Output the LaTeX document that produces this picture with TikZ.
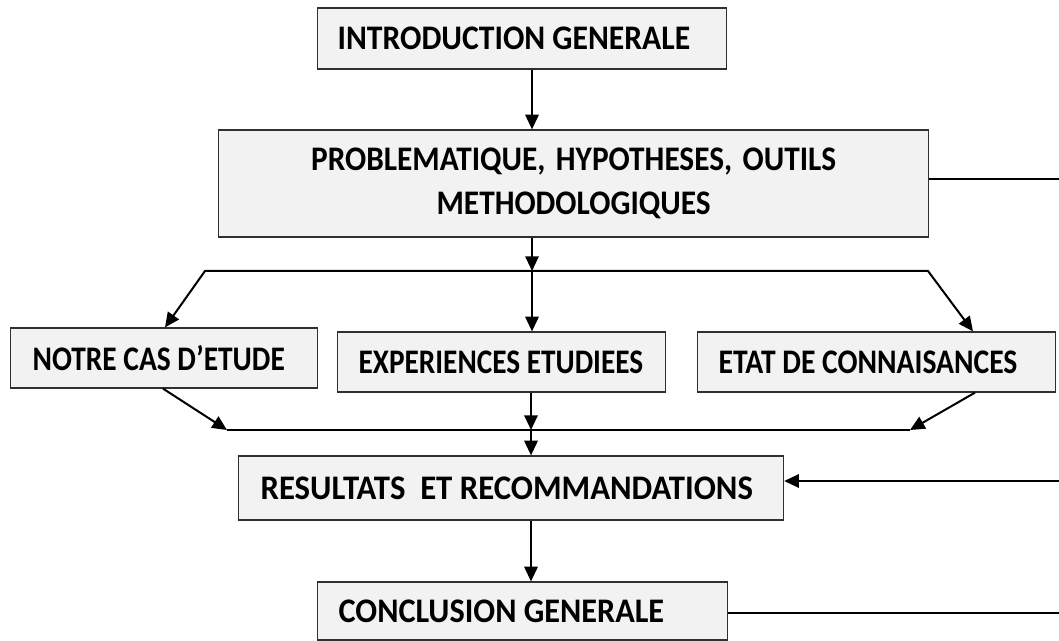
\documentclass[tikz,border=0pt]{standalone}
\usepackage{graphicx}
\usepackage{fontspec}
\setmainfont{Carlito}
\usetikzlibrary{arrows.meta}
\definecolor{boxfill}{HTML}{F2F2F2}
\definecolor{boxline}{HTML}{303030}
% slightly taller lettering, with an optional horizontal factor
\newcommand\tallword[2][1]{\scalebox{#1}[1.1]{#2}}
\begin{document}
\frenchspacing
\begin{tikzpicture}[x=0.75pt,y=-0.75pt,
  box/.style={draw=boxline, line width=0.9pt, fill=boxfill, inner ysep=0pt,
    font=\fontsize{23.5}{33}\selectfont\bfseries, anchor=west},
  conn/.style={line width=1.5pt},
  thinconn/.style={line width=1.2pt},
  tip/.style={-{Triangle[length=11pt,width=10pt]}},
  arr/.style={conn,tip},
]
\useasboundingbox (0,0) rectangle (1059,641);

% boxes
\node[box, minimum height=45.75pt, inner xsep=15pt] (intro) at (317,38.5)
  {\makebox[276.75pt][l]{\tallword[1.01]{INTRODUCTION GENERALE}}};
\node[box, minimum height=80.25pt, inner xsep=16.25pt, align=center, text width=500pt] (prob) at (218,183.5)
  {\tallword{PROBLEMATIQUE, HYPOTHESES, OUTILS}\\\tallword{METHODOLOGIQUES}};
\node[box, minimum height=45pt, inner xsep=16.5pt] (notre) at (10,358)
  {\makebox[197.25pt][l]{\tallword[0.94]{NOTRE CAS D’ETUDE}}};
\node[box, minimum height=45pt, inner xsep=15.75pt] (exp) at (337,362)
  {\makebox[214.5pt][l]{\tallword[0.935]{EXPERIENCES ETUDIEES}}};
\node[box, minimum height=45pt, inner xsep=15.75pt] (etat) at (697,362)
  {\makebox[237pt][l]{\tallword[0.945]{ETAT DE CONNAISANCES}}};
\node[box, minimum height=48pt, inner xsep=16.5pt] (res) at (238,488)
  {\makebox[375.75pt][l]{\tallword[1.045]{RESULTATS\ \ ET RECOMMANDATIONS}}};
\node[box, minimum height=43.5pt, inner xsep=15.75pt] (concl) at (317,611)
  {\makebox[276pt][l]{\tallword[1.03]{CONCLUSION GENERALE}}};

% reference points for the connectors
\coordinate (cx) at (532,0);
\coordinate (spL) at (205,271);
\coordinate (spM) at (532,271);
\coordinate (spR) at (928,271);
\coordinate (tN) at (165,0);
\coordinate (tE) at (973,0);
\coordinate (bN) at (163,0);
\coordinate (bE) at (975,0);
\coordinate (jL) at (227,430);
\coordinate (jM) at (531,430);
\coordinate (jR) at (910,430);
\coordinate (eR1) at (1059,179);
\coordinate (eR2) at (1059,481);
\coordinate (eR3) at (1059,613);

% connectors
\draw[arr] (intro.south -| cx) -- (prob.north -| cx);
\draw[arr] (prob.south -| spM) -- (spM);
\draw[conn, {Triangle[length=11pt,width=10pt]}-{Triangle[length=11pt,width=10pt]}]
  (notre.north -| tN) -- (spL) -- (spR) -- (etat.north -| tE);
\draw[arr] (spM) -- (exp.north -| spM);
\draw[arr] (notre.south -| bN) -- (jL);
\draw[thinconn] (jL) -- (jR);
\draw[arr] (etat.south -| bE) -- (jR);
\draw[arr] (exp.south -| jM) -- (jM);
\draw[arr] (jM) -- (res.north -| jM);
\draw[arr] (res.south -| jM) -- (concl.north -| jM);
\draw[thinconn] (prob.east |- eR1) -- (eR1);
\draw[arr] (eR2) -- (res.east |- eR2);
\draw[thinconn] (concl.east |- eR3) -- (eR3);
\end{tikzpicture}
\end{document}
